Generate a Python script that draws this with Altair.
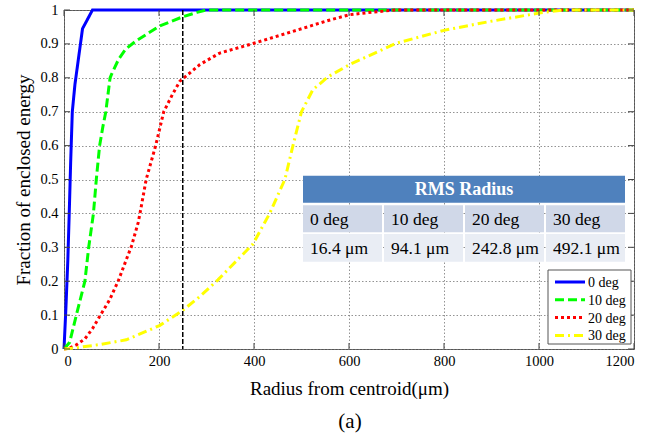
import altair as alt
import pandas as pd

# ---------------- data ----------------
series_names = ["0 deg", "10 deg", "20 deg", "30 deg"]
series_colors = ["#0000FF", "#00FF00", "#FF0000", "#FFFF00"]
series_dash = [[1, 0], [9, 4], [3, 3], [9, 4, 2, 4]]

r_0 = [0, 4, 8, 11, 14, 17.5, 23, 39, 60, 1200]
f_0 = [0, 0.12, 0.26, 0.40, 0.55, 0.70, 0.78, 0.945, 1.0, 1.0]

r_10 = [0, 12, 26, 44, 52, 62, 68, 75, 82, 88, 97, 100, 115, 130, 150, 200, 250, 280, 300, 1200]
f_10 = [0, 0.02, 0.10, 0.20, 0.30, 0.40, 0.50, 0.60, 0.657, 0.70, 0.80, 0.81, 0.855, 0.885, 0.907, 0.952, 0.98, 0.993, 1.0, 1.0]

r_20 = [0, 12, 26, 44, 60, 75, 96, 114, 131, 142, 156, 160, 173, 193, 210, 228, 244, 286, 328, 398, 482, 556, 601, 650, 700, 1200]
f_20 = [0, 0.003, 0.012, 0.03, 0.06, 0.096, 0.145, 0.20, 0.263, 0.303, 0.372, 0.40, 0.50, 0.60, 0.70, 0.75, 0.79, 0.839, 0.873, 0.901, 0.937, 0.969, 0.986, 0.994, 1.0, 1.0]

r_30 = [0, 22, 75, 131, 201, 250, 286, 324, 398, 433, 465, 482, 500, 524, 556, 601, 700, 800, 896, 1000, 1050, 1200]
f_30 = [0, 0.003, 0.013, 0.027, 0.069, 0.114, 0.155, 0.204, 0.31, 0.40, 0.50, 0.60, 0.70, 0.765, 0.803, 0.839, 0.902, 0.94, 0.966, 0.991, 1.0, 1.0]

rms_values = ["16.4 \u03bcm", "94.1 \u03bcm", "242.8 \u03bcm", "492.1 \u03bcm"]
table_title = "RMS Radius"
x_ticks = [0, 200, 400, 600, 800, 1000, 1200]
y_ticks = [0, 0.1, 0.2, 0.3, 0.4, 0.5, 0.6, 0.7, 0.8, 0.9, 1.0]
marker_r = [250]

# ---------------- layout ----------------
W, H = 570, 339
FONT = "Times New Roman, Liberation Serif, serif"

rows = []
for name, rs, fs in zip(series_names, [r_0, r_10, r_20, r_30], [f_0, f_10, f_20, f_30]):
    for r, f in zip(rs, fs):
        rows.append({"series": name, "r": r, "f": f})
df = pd.DataFrame(rows)

color_scale = alt.Scale(domain=series_names, range=series_colors)
dash_scale = alt.Scale(domain=series_names, range=series_dash)

axis_common = dict(grid=True, gridColor="#777777", gridDash=[1.5, 2], gridWidth=0.8,
                   domain=False, ticks=False, labelFont=FONT, labelFontSize=14.5,
                   labelColor="black", titleFont=FONT, titleFontSize=19,
                   titleFontWeight="normal", titleColor="black", labelOverlap=False)

X_ENC = alt.X("r:Q", scale=alt.Scale(domain=[0, 1200], nice=False, zero=False),
              axis=alt.Axis(values=x_ticks, format="d", title="Radius from centroid(\u03bcm)",
                            titleY=39, titleBaseline="middle", labelPadding=5, **axis_common))
Y_ENC = alt.Y("f:Q", scale=alt.Scale(domain=[0, 1], nice=False, zero=False),
              axis=alt.Axis(values=y_ticks, format=".1~f", title="Fraction of enclosed energy",
                            titleX=-41, titleY=H / 2, titleBaseline="middle", titleAngle=270,
                            labelPadding=6, **axis_common))

lines = alt.Chart(df).mark_line(strokeWidth=3).encode(
    x=X_ENC, y=Y_ENC,
    color=alt.Color("series:N", scale=color_scale, legend=None),
    strokeDash=alt.StrokeDash("series:N", scale=dash_scale, legend=None),
)

one = pd.DataFrame({"k": [0]})
tx = pd.DataFrame({"r": x_ticks})
ty = pd.DataFrame({"f": y_ticks})
TICK = 6
tick_col = "#444444"
ticks = [
    alt.Chart(tx).mark_rule(color=tick_col).encode(x=X_ENC, y=alt.value(H), y2=alt.value(H - TICK)),
    alt.Chart(tx).mark_rule(color=tick_col).encode(x=X_ENC, y=alt.value(0), y2=alt.value(TICK)),
    alt.Chart(ty).mark_rule(color=tick_col).encode(y=Y_ENC, x=alt.value(0), x2=alt.value(TICK)),
    alt.Chart(ty).mark_rule(color=tick_col).encode(y=Y_ENC, x=alt.value(W), x2=alt.value(W - TICK)),
]

vline = alt.Chart(pd.DataFrame({"r": marker_r})).mark_rule(
    color="black", strokeDash=[5, 2], strokeWidth=1.5).encode(x=X_ENC)

# ---------------- table ----------------
tbl_x0, tbl_x1 = 239, 561
col_w = (tbl_x1 - tbl_x0 + 2) / 4.0
gap = 2
hdr_y0, hdr_y1 = 165.7, 192.7
r1_y0, r1_y1 = 195.3, 222.3
r2_y0, r2_y1 = 224.0, 251.7

table = []
table.append(alt.Chart(one).mark_rect(color="#4F81BD").encode(
    x=alt.value(tbl_x0), x2=alt.value(tbl_x1), y=alt.value(hdr_y0), y2=alt.value(hdr_y1)))
table.append(alt.Chart(one).mark_text(text=table_title, font=FONT, fontSize=18, fontWeight="bold",
                                      color="white", align="center", baseline="middle").encode(
    x=alt.value((tbl_x0 + tbl_x1) / 2), y=alt.value((hdr_y0 + hdr_y1) / 2 + 1)))
for i, (name, val) in enumerate(zip(series_names, rms_values)):
    cx0 = tbl_x0 + i * col_w
    cx1 = cx0 + col_w - gap
    table.append(alt.Chart(one).mark_rect(color="#D0D8E8").encode(
        x=alt.value(cx0), x2=alt.value(cx1), y=alt.value(r1_y0), y2=alt.value(r1_y1)))
    table.append(alt.Chart(one).mark_rect(color="#E9EDF4").encode(
        x=alt.value(cx0), x2=alt.value(cx1), y=alt.value(r2_y0), y2=alt.value(r2_y1)))
    table.append(alt.Chart(one).mark_text(text=name, font=FONT, fontSize=17.5, color="black",
                                          align="left", baseline="middle").encode(
        x=alt.value(cx0 + 7), y=alt.value((r1_y0 + r1_y1) / 2 + 1)))
    table.append(alt.Chart(one).mark_text(text=val, font=FONT, fontSize=17.5, color="black",
                                          align="left", baseline="middle").encode(
        x=alt.value(cx0 + 7), y=alt.value((r2_y0 + r2_y1) / 2 + 1)))

# ---------------- legend ----------------
lg_x0, lg_x1, lg_y0, lg_y1 = 484, 567, 260, 334
legend = [alt.Chart(one).mark_rect(fill="white", stroke="#555555", strokeWidth=1).encode(
    x=alt.value(lg_x0), x2=alt.value(lg_x1), y=alt.value(lg_y0), y2=alt.value(lg_y1))]
for i, (name, col, dash) in enumerate(zip(series_names, series_colors, series_dash)):
    yy = 272 + i * 17.8
    legend.append(alt.Chart(one).mark_rule(color=col, strokeDash=dash, strokeWidth=3).encode(
        x=alt.value(491), x2=alt.value(521), y=alt.value(yy)))
    legend.append(alt.Chart(one).mark_text(text=name, font=FONT, fontSize=14, color="black",
                                          align="left", baseline="middle").encode(
        x=alt.value(524), y=alt.value(yy + 1)))

caption = alt.Chart(one).mark_text(text="(a)", font=FONT, fontSize=21, color="black",
                                   align="center", baseline="middle").encode(
    x=alt.value(286), y=alt.value(412))

chart = alt.layer(lines, *ticks, vline, *table, *legend, caption).properties(
    width=W, height=H,
    padding={"left": 64, "top": 10, "right": 27, "bottom": 90},
    autosize=alt.AutoSizeParams(type="none"),
).configure_view(stroke="#555555", strokeWidth=1)

chart.save("out.html", embed_options={"renderer": "svg", "actions": False})
